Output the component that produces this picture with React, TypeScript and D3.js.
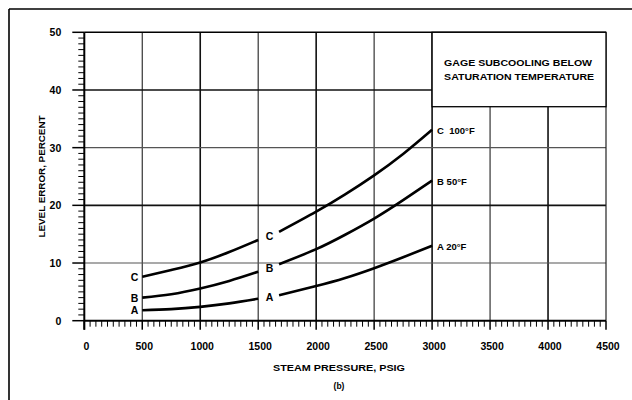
import React from "react";
import * as d3 from "d3";

const xTicks = [0, 500, 1000, 1500, 2000, 2500, 3000, 3500, 4000, 4500];
const yTicks = [0, 10, 20, 30, 40, 50];

const xSeg1 = [500, 750, 1000, 1250, 1500];
const aSeg1 = [1.8, 2.0, 2.4, 3.0, 3.8];
const bSeg1 = [4.0, 4.6, 5.6, 6.9, 8.5];
const cSeg1 = [7.6, 8.8, 10.1, 11.9, 14.0];

const xSeg2 = [1680, 2000, 2250, 2500, 2750, 3000];
const aSeg2 = [4.4, 6.0, 7.4, 9.1, 11.0, 13.0];
const bSeg2 = [9.8, 12.4, 14.9, 17.7, 20.9, 24.3];
const cSeg2 = [15.4, 18.9, 21.9, 25.2, 28.9, 33.1];

const seriesNames = ["A", "B", "C"];
const seriesTemps = ["A 20°F", "B 50°F", "C  100°F"];
const legendLines = ["GAGE SUBCOOLING BELOW", "SATURATION TEMPERATURE"];
const legendBottom = 37.1;

const FONT = "'Liberation Sans', Arial, sans-serif";

export default function App() {
  const x = d3.scaleLinear().domain([0, 4500]).range([84.3, 606]);
  const y = d3.scaleLinear().domain([0, 50]).range([320.7, 32.3]);
  const line = d3
    .line<[number, number]>()
    .x((d) => x(d[0]))
    .y((d) => y(d[1]))
    .curve(d3.curveNatural);

  const seg1 = [aSeg1, bSeg1, cSeg1];
  const seg2 = [aSeg2, bSeg2, cSeg2];

  const minorX = d3.range(0, 4501, 50);
  const minorY = d3.range(0, 51, 1);

  return (
    <div style={{ position: "fixed", left: 0, top: 0 }}>
      <svg width={632} height={400} style={{ display: "block", background: "#fff" }}>
        {/* outer frame */}
        <line x1={9} y1={9} x2={632} y2={9} stroke="#000" strokeWidth={1.6} />
        <line x1={9} y1={9} x2={9} y2={400} stroke="#000" strokeWidth={1.6} />

        {/* grid */}
        {xTicks.slice(1, -1).map((t) => (
          <line
            key={"gx" + t}
            x1={x(t)}
            x2={x(t)}
            y1={y(50)}
            y2={y(0)}
            stroke={t % 1000 === 0 ? "#111" : "#333"}
            strokeWidth={t % 1000 === 0 ? 1.6 : 1.2}
          />
        ))}
        {yTicks.slice(1, -1).map((t) => (
          <line
            key={"gy" + t}
            x1={x(0)}
            x2={x(4500)}
            y1={y(t)}
            y2={y(t)}
            stroke={t % 20 === 0 ? "#111" : "#555"}
            strokeWidth={t % 20 === 0 ? 1.6 : 1.2}
          />
        ))}
        {/* plot frame */}
        <line x1={x(0)} x2={x(4500)} y1={y(50)} y2={y(50)} stroke="#000" strokeWidth={1.6} />
        <line x1={x(4500)} x2={x(4500)} y1={y(50)} y2={y(0)} stroke="#222" strokeWidth={1.2} />

        {/* legend box */}
        <rect
          x={x(3000)}
          y={y(50)}
          width={x(4500) - x(3000)}
          height={y(legendBottom) - y(50)}
          fill="#fff"
          stroke="#000"
          strokeWidth={1.3}
        />
        {legendLines.map((t, i) => (
          <text
            key={t}
            x={x(3000) + 12}
            y={y(50) + 34 + i * 14}
            fontFamily={FONT}
            fontWeight="bold"
            fontSize={9.5}
            textLength={i === 0 ? 148 : 150}
            lengthAdjust="spacingAndGlyphs"
            fill="#000"
          >
            {t}
          </text>
        ))}

        {/* axes */}
        <line x1={x(0)} x2={x(0)} y1={y(50)} y2={y(0) + 9} stroke="#000" strokeWidth={2} />
        <line x1={x(0)} x2={x(4500)} y1={y(0)} y2={y(0)} stroke="#000" strokeWidth={2} />
        {minorY.map((t) => (
          <line
            key={"my" + t}
            x1={x(0) - (t % 10 === 0 ? 12 : 6)}
            x2={x(0)}
            y1={y(t)}
            y2={y(t)}
            stroke="#000"
            strokeWidth={t % 10 === 0 ? 1.5 : 1}
          />
        ))}
        {minorX.map((t) => (
          <line
            key={"mx" + t}
            x1={x(t)}
            x2={x(t)}
            y1={y(0)}
            y2={y(0) + (t % 500 === 0 ? 9 : 6)}
            stroke="#000"
            strokeWidth={t % 500 === 0 ? 1.5 : 1}
          />
        ))}

        {/* tick labels */}
        {yTicks.map((t) => (
          <text
            key={"ly" + t}
            x={x(0) - 23}
            y={y(t) + 4}
            textAnchor="end"
            fontFamily={FONT}
            fontWeight="bold"
            fontSize={10.5}
          >
            {t}
          </text>
        ))}
        {xTicks.map((t) => (
          <text
            key={"lx" + t}
            x={x(t) + 2}
            y={350}
            textAnchor="middle"
            fontFamily={FONT}
            fontWeight="bold"
            fontSize={10.5}
          >
            {t}
          </text>
        ))}

        {/* axis titles */}
        <text
          transform={`translate(45,${(y(50) + y(0)) / 2}) rotate(-90)`}
          textAnchor="middle"
          fontFamily={FONT}
          fontWeight="bold"
          fontSize={9.5}
          textLength={122}
          lengthAdjust="spacingAndGlyphs"
        >
          LEVEL ERROR, PERCENT
        </text>
        <text
          x={339}
          y={371}
          textAnchor="middle"
          fontFamily={FONT}
          fontWeight="bold"
          fontSize={9.5}
          textLength={132}
          lengthAdjust="spacingAndGlyphs"
        >
          STEAM PRESSURE, PSIG
        </text>
        <text x={339} y={389} textAnchor="middle" fontFamily={FONT} fontWeight="bold" fontSize={8.5}>
          (b)
        </text>

        {/* curves */}
        {seriesNames.map((n, i) => (
          <g key={"s" + n}>
            <path
              d={line(xSeg1.map((v, j) => [v, seg1[i][j]]) as [number, number][]) || ""}
              fill="none"
              stroke="#000"
              strokeWidth={2.6}
            />
            <path
              d={line(xSeg2.map((v, j) => [v, seg2[i][j]]) as [number, number][]) || ""}
              fill="none"
              stroke="#000"
              strokeWidth={2.6}
            />
            <text
              x={x(xSeg1[0]) - 4}
              y={y(seg1[i][0]) + 4}
              textAnchor="end"
              fontFamily={FONT}
              fontWeight="bold"
              fontSize={10.5}
            >
              {n}
            </text>
            <text
              x={(x(xSeg1[xSeg1.length - 1]) + x(xSeg2[0])) / 2 + 1}
              y={(y(seg1[i][seg1[i].length - 1]) + y(seg2[i][0])) / 2 + 4}
              textAnchor="middle"
              fontFamily={FONT}
              fontWeight="bold"
              fontSize={10.5}
            >
              {n}
            </text>
            <text
              x={x(3000) + 5}
              y={y(seg2[i][seg2[i].length - 1]) + 4}
              fontFamily={FONT}
              fontWeight="bold"
              fontSize={9.5}
              style={{ whiteSpace: "pre" }}
            >
              {seriesTemps[i]}
            </text>
          </g>
        ))}
      </svg>
    </div>
  );
}
